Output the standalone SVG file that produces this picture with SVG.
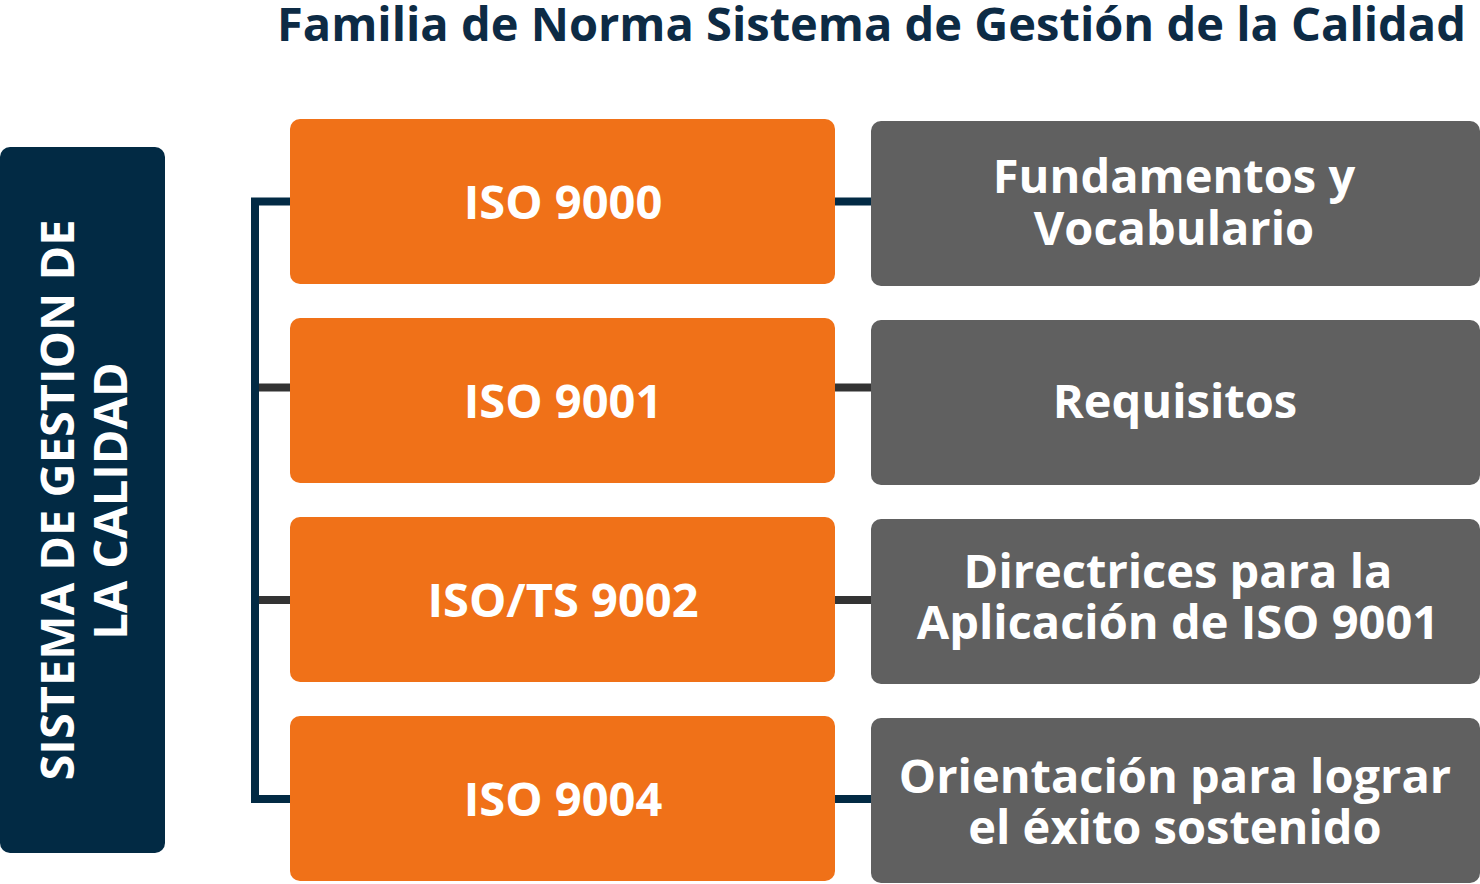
<svg xmlns="http://www.w3.org/2000/svg" width="1480" height="884" viewBox="0 0 1480 884">
<style>
.t{font-family:"Open Sans","Noto Sans","Liberation Sans",sans-serif;font-weight:bold;text-anchor:middle;fill:#fff;font-size:47px}
.title{font-family:"Open Sans","Noto Sans","Liberation Sans",sans-serif;font-weight:bold;fill:#0d2b45;font-size:47px;text-anchor:middle}
.o{fill:#f07118}
.g{fill:#606060}
.nv{stroke:#022a44;stroke-width:8;fill:none}
.dk{stroke:#333333;stroke-width:8;fill:none}
</style>
<rect width="1480" height="884" fill="#ffffff"/>
<text class="title" x="871.5" y="41">Familia de Norma Sistema de Gestión de la Calidad</text>
<g id="side">
<rect x="0" y="147" width="165" height="706" rx="10" fill="#022a44"/>
<text class="t" transform="translate(74,500) rotate(-90)">SISTEMA DE GESTION DE</text>
<text class="t" transform="translate(127,501) rotate(-90)">LA CALIDAD</text>
</g>
<g id="connectors">
<path class="nv" d="M290 201.5H255V799H290"/>
<path class="dk" d="M259 387.5H290M259 600H290"/>
<path class="nv" d="M835 201.5H871M835 799H871"/>
<path class="dk" d="M835 387.5H871M835 600H871"/>
</g>
<g id="iso9000"><rect class="o" x="290" y="119" width="545" height="165" rx="10"/><text class="t" x="563" y="219">ISO 9000</text></g>
<g id="iso9001"><rect class="o" x="290" y="318" width="545" height="165" rx="10"/><text class="t" x="563" y="418">ISO 9001</text></g>
<g id="iso9002"><rect class="o" x="290" y="517" width="545" height="165" rx="10"/><text class="t" x="563" y="617">ISO/TS 9002</text></g>
<g id="iso9004"><rect class="o" x="290" y="716" width="545" height="165" rx="10"/><text class="t" x="563" y="816">ISO 9004</text></g>
<g id="d1"><rect class="g" x="871" y="121" width="609" height="165" rx="10"/><text class="t" x="1174" y="193">Fundamentos y</text><text class="t" x="1174" y="245">Vocabulario</text></g>
<g id="d2"><rect class="g" x="871" y="320" width="609" height="165" rx="10"/><text class="t" x="1175" y="418">Requisitos</text></g>
<g id="d3"><rect class="g" x="871" y="519" width="609" height="165" rx="10"/><text class="t" x="1178" y="588">Directrices para la</text><text class="t" x="1178" y="639">Aplicación de ISO 9001</text></g>
<g id="d4"><rect class="g" x="871" y="718" width="609" height="165" rx="10"/><text class="t" x="1175" y="793">Orientación para lograr</text><text class="t" x="1175" y="844">el éxito sostenido</text></g>
</svg>
